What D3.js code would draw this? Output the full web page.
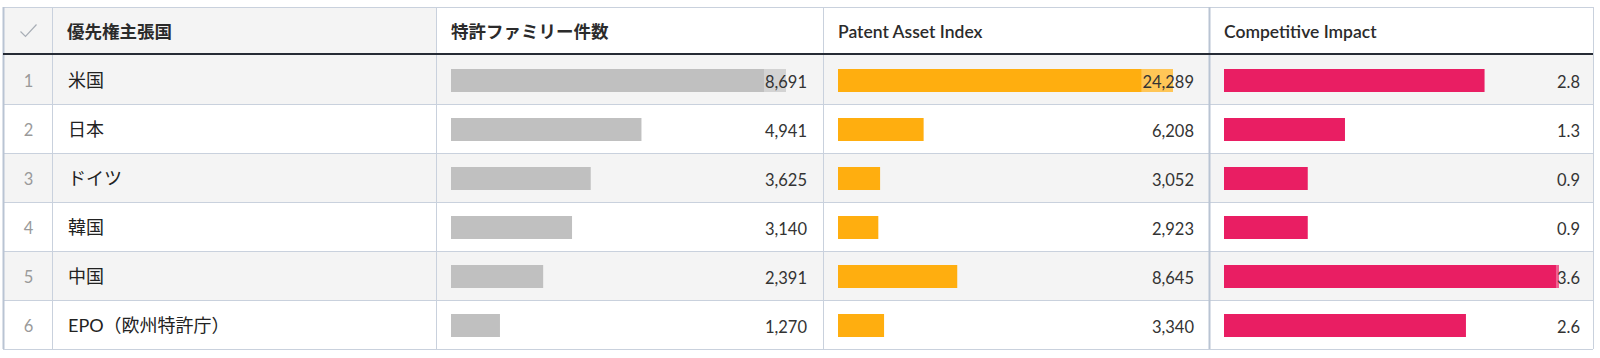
<!DOCTYPE html>
<html>
<head>
<meta charset="utf-8">
<script src="https://cdn.jsdelivr.net/npm/d3@7"></script>
<style>
  body { margin: 0; background: #fff; }
  svg text { font-family: Lato, "Noto Sans CJK JP", sans-serif; }
</style>
</head>
<body>
<div class="table-wrap"></div>
<script>
// data
const countries = ['米国', '日本', 'ドイツ', '韓国', '中国', 'EPO（欧州特許庁）']
const families = [8691, 4941, 3625, 3140, 2391, 1270]
const pai = [24289, 6208, 3052, 2923, 8645, 3340]
const impact = [2.8, 1.3, 0.9, 0.9, 3.6, 2.6]
const headers = ['優先権主張国', '特許ファミリー件数', 'Patent Asset Index', 'Competitive Impact']

const width = 1600, height = 358
const colX = [3, 52, 436, 823, 1209, 1593]
const tableTop = 7, headH = 47, rowH = 49
const rowTop = tableTop + headH + 1

const svg = d3.select('.table-wrap')
  .append('svg')
  .attr('width', width)
  .attr('height', height)

const rows = countries.map((c, i) => ({ country: c, fam: families[i], pai: pai[i], ci: impact[i], i }))

// backgrounds
svg.append('rect')
  .attr('x', colX[0]).attr('y', tableTop)
  .attr('width', colX[2] - colX[0]).attr('height', headH)
  .attr('fill', '#f4f4f4')

svg.selectAll('.rowbg')
  .data(rows)
  .enter()
  .append('rect')
  .attr('class', 'rowbg')
  .attr('x', colX[0])
  .attr('y', d => rowTop + d.i * rowH)
  .attr('width', colX[5] - colX[0])
  .attr('height', rowH)
  .attr('fill', d => d.i % 2 == 0 ? '#f4f4f4' : '#ffffff')

// grid
const grid = svg.append('g')
  .attr('stroke', '#c9d1dd')
  .attr('stroke-width', 1)

rows.forEach(d => {
  let y = rowTop + (d.i + 1) * rowH + 0.5
  grid.append('line').attr('x1', colX[0]).attr('x2', colX[5]).attr('y1', y).attr('y2', y)
})
grid.append('line').attr('x1', colX[0]).attr('x2', colX[5]).attr('y1', tableTop + 0.5).attr('y2', tableTop + 0.5)

colX.forEach((x, j) => {
  grid.append('line')
    .attr('x1', x + 0.5).attr('x2', x + 0.5)
    .attr('y1', tableTop).attr('y2', rowTop + rows.length * rowH)
    .attr('stroke-width', (j == 0 || j == 4) ? 2 : 1)
    .attr('stroke', (j == 0 || j == 4) ? '#b9c4d3' : '#c9d1dd')
})

svg.append('line')
  .attr('x1', colX[0]).attr('x2', colX[5])
  .attr('y1', tableTop + headH).attr('y2', tableTop + headH)
  .attr('stroke', '#262b35')
  .attr('stroke-width', 2.2)

// check mark in the corner cell
const cx = (colX[0] + colX[1]) / 2 + 1, cy = tableTop + headH / 2
svg.append('path')
  .attr('d', d3.line()([[cx - 8, cy + 1], [cx - 3, cy + 6], [cx + 8, cy - 6]]))
  .attr('fill', 'none')
  .attr('stroke', '#a8aeb6')
  .attr('stroke-width', 1.2)

headers.forEach((h, j) => {
  svg.append('text')
    .attr('x', colX[j + 1] + 15)
    .attr('y', tableTop + headH / 2 + 7)
    .attr('fill', '#2b2b2b')
    .style('font-size', '17.5px')
    .style('font-weight', 600)
    .text(h)
})

// first two columns
svg.selectAll('.idx')
  .data(rows)
  .enter()
  .append('text')
  .attr('x', (colX[0] + colX[1]) / 2 + 1)
  .attr('y', d => rowTop + d.i * rowH + rowH / 2 + 7)
  .attr('text-anchor', 'middle')
  .attr('fill', '#9a9a9a')
  .style('font-size', '16.5px')
  .text(d => d.i + 1)

svg.selectAll('.name')
  .data(rows)
  .enter()
  .append('text')
  .attr('x', colX[1] + 16)
  .attr('y', d => rowTop + d.i * rowH + rowH / 2 + 7)
  .attr('fill', '#222')
  .style('font-size', '18px')
  .text(d => d.country)

// bar columns
const barW = 335, barH = 23
const cols = [
  { key: 'fam', x0: colX[2], color: '#c0c0c0', fmt: d3.format(',') },
  { key: 'pai', x0: colX[3], color: '#ffae0f', fmt: d3.format(',') },
  { key: 'ci', x0: colX[4], color: '#e91e63', fmt: d3.format('.1f') }
]

cols.forEach(c => {
  const x = d3.scaleLinear()
    .domain([0, d3.max(rows, d => d[c.key])])
    .range([0, barW])

  const g = svg.append('g')
  const left = c.x0 + 15
  const right = c.x0 + 387 - 16

  g.selectAll('rect.bar')
    .data(rows)
    .enter()
    .append('rect')
    .attr('class', 'bar')
    .attr('x', left)
    .attr('y', d => rowTop + d.i * rowH + rowH / 2 - barH / 2 + 1)
    .attr('width', d => x(d[c.key]))
    .attr('height', barH)
    .attr('fill', c.color)

  const labels = g.selectAll('text.val')
    .data(rows)
    .enter()
    .append('text')
    .attr('class', 'val')
    .attr('x', right)
    .attr('y', d => rowTop + d.i * rowH + rowH / 2 + 8)
    .attr('text-anchor', 'end')
    .attr('fill', '#333')
    .style('font-size', '16.5px')
    .text(d => c.fmt(d[c.key]))

  // lighten the bar behind the label where they overlap
  labels.each(function(d) {
    let bb = this.getBBox()
    let end = left + x(d[c.key])
    if (end > bb.x) {
      g.insert('rect', 'text')
        .attr('x', bb.x - 1)
        .attr('y', rowTop + d.i * rowH + rowH / 2 - barH / 2 + 1)
        .attr('width', end - bb.x + 1)
        .attr('height', barH)
        .attr('fill', '#fff')
        .attr('opacity', 0.3)
    }
  })
})
</script>
</body>
</html>
